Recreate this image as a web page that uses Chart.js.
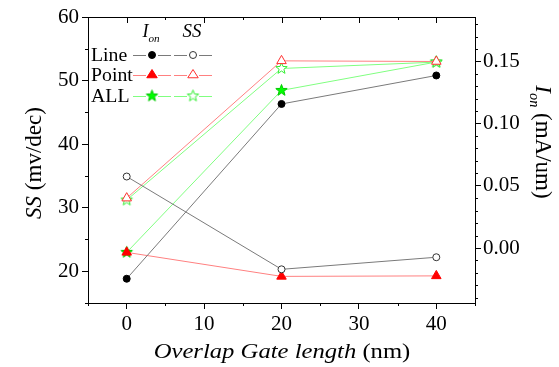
<!DOCTYPE html>
<html>
<head>
<meta charset="utf-8">
<script src="https://cdn.jsdelivr.net/npm/chart.js"></script>
<style>
  body { margin: 0; background: #fff; }
  canvas { display: block; }
</style>
</head>
<body>
<canvas id="chart" width="559" height="367"></canvas>
<script>
// overlap gate length (nm)
const overlap = [0, 20, 40];

// I_on (mA/um), right axis
const ionLine = [-0.0247, 0.1158, 0.1387];
const ionPoint = [-0.0035, -0.0228, -0.0224];
const ionAll = [-0.0035, 0.1267, 0.1495];

// SS (mv/dec), left axis
const ssLine = [34.9, 20.3, 22.2];
const ssPoint = [31.5, 53.1, 53.0];
const ssAll = [31.2, 51.9, 52.9];

// tick labels
const xTicks = [0, 10, 20, 30, 40];
const ssTicks = [20, 30, 40, 50, 60];
const ionTicks = [0, 0.05, 0.10, 0.15];

const FONT = 'Liberation Serif';
Chart.defaults.font.family = FONT;
Chart.defaults.font.size = 21;
Chart.defaults.color = '#000';

// 5 point star, chart.js 'star' is a cross so build one
function makeStar(fill, stroke, r) {
    const c = document.createElement('canvas');
    c.width = c.height = Math.ceil(r * 2 + 3);
    const g = c.getContext('2d');
    const cx = c.width / 2, cy = c.height / 2;
    g.beginPath();
    for (let i = 0; i < 10; i++) {
        const rad = i % 2 ? r * 0.42 : r;
        const a = -Math.PI / 2 + i * Math.PI / 5;
        g.lineTo(cx + rad * Math.cos(a), cy + rad * Math.sin(a));
    }
    g.closePath();
    g.fillStyle = fill;
    g.fill();
    g.strokeStyle = stroke;
    g.lineWidth = 1;
    g.stroke();
    return c;
}
const starFull = makeStar('#00ff00', '#00c800', 6);
const starOpen = makeStar('#ffffff', '#33ee33', 6);

const pts = ys => overlap.map((x, i) => ({x: x, y: ys[i]}));

function ds(label, ys, axis, line, style, fill, stroke, r) {
    return {
        label: label,
        data: pts(ys),
        yAxisID: axis,
        borderColor: line,
        borderWidth: 1,
        pointStyle: style,
        pointRadius: r,
        pointBackgroundColor: fill,
        pointBorderColor: stroke,
        pointBorderWidth: 1,
        tension: 0
    };
}

const datasets = [
    ds('Line SS', ssLine, 'y', '#7a7a7a', 'circle', '#fff', '#333', 3.5),
    ds('Line Ion', ionLine, 'y1', '#7a7a7a', 'circle', '#000', '#000', 3.5),
    ds('Point SS', ssPoint, 'y', '#ff8080', 'triangle', '#fff', '#ff3030', 5.5),
    ds('Point Ion', ionPoint, 'y1', '#ff8080', 'triangle', '#ff0000', '#ff0000', 5.5),
    ds('ALL SS', ssAll, 'y', '#80ff80', starOpen, '#fff', '#33ee33', 6),
    ds('ALL Ion', ionAll, 'y1', '#80ff80', starFull, '#00ff00', '#00c800', 6)
];

function drawMarker(ctx, style, x, y, fill, stroke, r) {
    if (style instanceof HTMLCanvasElement) {
        ctx.drawImage(style, x - style.width / 2, y - style.height / 2);
        return;
    }
    ctx.beginPath();
    if (style === 'circle') {
        ctx.arc(x, y, r, 0, Math.PI * 2);
    } else {
        const h = r * 1.5;
        ctx.moveTo(x, y - r);
        ctx.lineTo(x + r * 0.95, y + h - r);
        ctx.lineTo(x - r * 0.95, y + h - r);
        ctx.closePath();
    }
    ctx.fillStyle = fill;
    ctx.fill();
    ctx.strokeStyle = stroke;
    ctx.lineWidth = 1;
    ctx.stroke();
}

// text with italic / subscript parts, centred on x
function drawRich(ctx, parts, x, y, size, stretch) {
    let w = 0;
    parts.forEach(p => {
        ctx.font = (p.it ? 'italic ' : '') + (p.sub ? size * 0.62 : size) + 'px "' + FONT + '"';
        p.w = ctx.measureText(p.t).width;
        w += p.w;
    });
    ctx.save();
    ctx.translate(x, y);
    ctx.scale(stretch || 1, 1);
    let cx = -w / 2;
    parts.forEach(p => {
        ctx.font = (p.it ? 'italic ' : '') + (p.sub ? size * 0.62 : size) + 'px "' + FONT + '"';
        ctx.fillText(p.t, cx, p.sub ? size * 0.28 : 0);
        cx += p.w;
    });
    ctx.restore();
}

const extras = {
    id: 'extras',
    afterDraw(chart) {
        const {ctx, chartArea: a, scales} = chart;
        const sx = scales.x, sy = scales.y, sy1 = scales.y1;
        ctx.save();
        ctx.strokeStyle = '#000';
        ctx.lineWidth = 1;
        const seg = (x1, y1, x2, y2) => {
            ctx.beginPath();
            ctx.moveTo(x1, y1);
            ctx.lineTo(x2, y2);
            ctx.stroke();
        };
        // top frame line
        seg(a.left, a.top + 0.5, a.right, a.top + 0.5);
        // top ticks (inward) and bottom minor ticks
        for (let v = -5; v <= 45; v += 5) {
            const px = Math.round(sx.getPixelForValue(v)) + 0.5;
            const major = v % 10 === 0;
            seg(px, a.top, px, a.top + (major ? 6 : 3));
            if (!major) seg(px, a.bottom, px, a.bottom + 3);
        }
        // left minor ticks
        for (let v = 15; v <= 55; v += 10) {
            const py = Math.round(sy.getPixelForValue(v)) + 0.5;
            seg(a.left - 3, py, a.left, py);
        }
        // right minor ticks
        for (let k = -4; k <= 18; k++) {
            if (k % 5 === 0) continue;
            const py = Math.round(sy1.getPixelForValue(k / 100)) + 0.5;
            seg(a.right, py, a.right + 3, py);
        }

        ctx.fillStyle = '#000';
        ctx.textBaseline = 'alphabetic';
        ctx.textAlign = 'left';

        // axis titles
        drawRich(ctx, [{t: 'Overlap Gate length', it: true}, {t: ' (nm)'}], 282, 358, 22, 1.12);
        ctx.save();
        ctx.translate(41, 163);
        ctx.rotate(-Math.PI / 2);
        drawRich(ctx, [{t: 'SS', it: true}, {t: ' (mv/dec)'}], 0, 0, 23, 1);
        ctx.restore();
        ctx.save();
        ctx.translate(536, 142);
        ctx.rotate(Math.PI / 2);
        drawRich(ctx, [{t: 'I', it: true}, {t: 'on', it: true, sub: true}, {t: ' (mA/um)'}], 0, 0, 23, 1);
        ctx.restore();

        // legend
        drawRich(ctx, [{t: 'I', it: true}, {t: 'on', it: true, sub: true}], 151, 37, 18, 1);
        drawRich(ctx, [{t: 'SS', it: true}], 192, 37, 18, 1.05);
        const rows = [
            {name: 'Line', ion: datasets[1], ss: datasets[0], y: 55},
            {name: 'Point', ion: datasets[3], ss: datasets[2], y: 75},
            {name: 'ALL', ion: datasets[5], ss: datasets[4], y: 96}
        ];
        rows.forEach(r => {
            ctx.font = '18px "' + FONT + '"';
            ctx.fillStyle = '#000';
            ctx.save();
            ctx.translate(91, r.y + 6);
            ctx.scale(1.1, 1);
            ctx.fillText(r.name, 0, 0);
            ctx.restore();
            [[r.ion, 152], [r.ss, 193]].forEach(([d, mx]) => {
                ctx.strokeStyle = d.borderColor;
                seg(mx - 19, r.y + 0.5, mx - 6, r.y + 0.5);
                seg(mx + 6, r.y + 0.5, mx + 19, r.y + 0.5);
                drawMarker(ctx, d.pointStyle, mx, r.y, d.pointBackgroundColor, d.pointBorderColor, d.pointRadius);
            });
        });
        ctx.restore();
    }
};

const tickFont = {family: FONT, size: 21};
const axisGrid = {drawOnChartArea: false, drawTicks: true, tickLength: 6, color: '#000'};
const axisBorder = {display: true, color: '#000', width: 1};

new Chart(document.getElementById('chart'), {
    type: 'line',
    data: {datasets: datasets},
    options: {
        responsive: false,
        animation: false,
        devicePixelRatio: 1,
        layout: {padding: {top: 17, left: 0, right: 0, bottom: 0}},
        plugins: {legend: {display: false}, tooltip: {enabled: false}},
        scales: {
            x: {
                type: 'linear',
                min: -5,
                max: 45,
                afterBuildTicks: s => { s.ticks = xTicks.map(v => ({value: v})); },
                afterFit: s => { s.height = 64; },
                ticks: {font: tickFont, color: '#000', padding: 3, maxRotation: 0},
                grid: axisGrid,
                border: axisBorder
            },
            y: {
                position: 'left',
                min: 15,
                max: 60,
                afterBuildTicks: s => { s.ticks = ssTicks.map(v => ({value: v})); },
                afterFit: s => { s.width = 88; },
                ticks: {font: tickFont, color: '#000', padding: 3},
                grid: axisGrid,
                border: axisBorder
            },
            y1: {
                position: 'right',
                min: -0.0442,
                max: 0.1857,
                afterBuildTicks: s => { s.ticks = ionTicks.map(v => ({value: v})); },
                afterFit: s => { s.width = 84; },
                ticks: {font: tickFont, color: '#000', padding: 2, callback: v => v.toFixed(2)},
                grid: axisGrid,
                border: axisBorder
            }
        }
    },
    plugins: [extras]
});
</script>
</body>
</html>
